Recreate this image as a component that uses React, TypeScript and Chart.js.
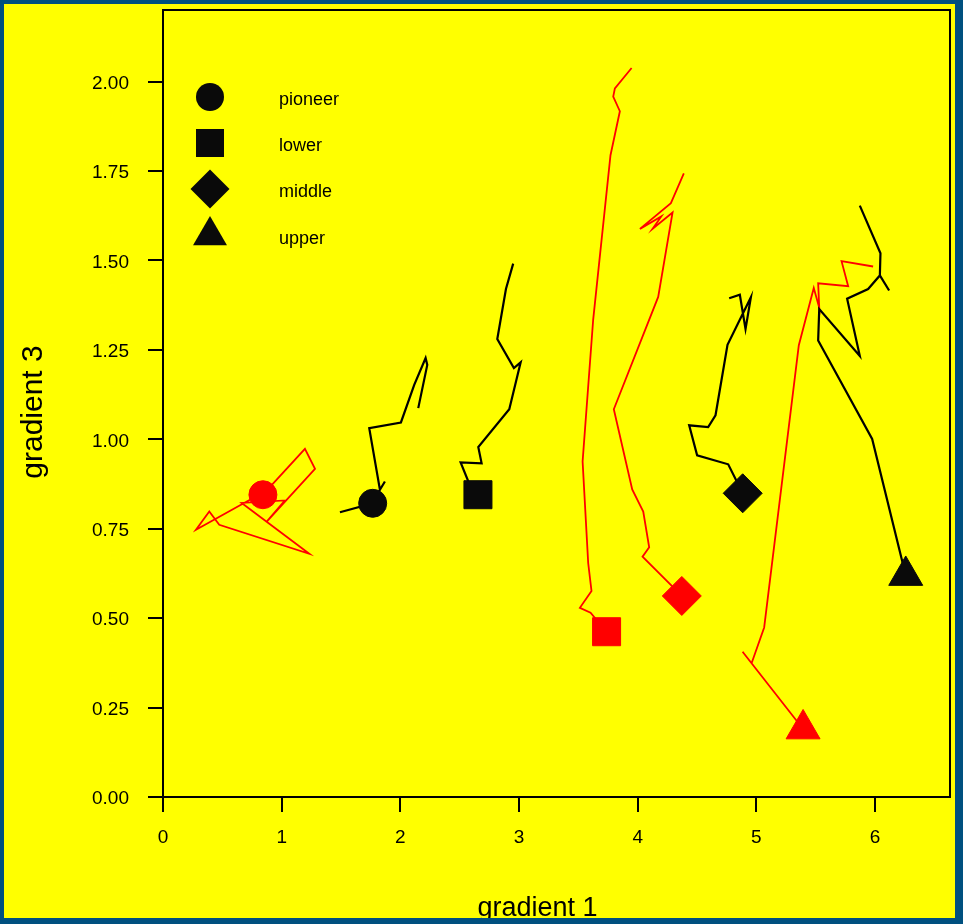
import React, { useEffect, useRef } from 'react';
import { Chart, registerables } from 'chart.js';

Chart.register(...registerables);

// ---- data ----
const groups = ['pioneer', 'lower', 'middle', 'upper'];
const xTitle = 'gradient 1';
const yTitle = 'gradient 3';
const xTicks = [0, 1, 2, 3, 4, 5, 6];
const yTicks = [0, 0.25, 0.5, 0.75, 1.0, 1.25, 1.5, 1.75, 2.0];

// black trajectories (first point = symbol)
const blackPioneer: [number, number][] = [
  [1.767, 0.821], [1.491, 0.796], [1.767, 0.821], [1.828, 0.859], [1.870, 0.882], [1.828, 0.859],
  [1.738, 1.031], [2.005, 1.047], [2.117, 1.152], [2.213, 1.227], [2.227, 1.208], [2.151, 1.087],
];
const blackLower: [number, number][] = [
  [2.654, 0.845], [2.573, 0.882], [2.508, 0.935], [2.685, 0.933], [2.657, 0.978], [2.918, 1.084],
  [3.014, 1.215], [2.957, 1.199], [2.817, 1.280], [2.890, 1.420], [2.951, 1.491],
];
const blackMiddle: [number, number][] = [
  [4.885, 0.849], [4.763, 0.930], [4.501, 0.955], [4.434, 1.039], [4.594, 1.034], [4.656, 1.067],
  [4.757, 1.264], [4.954, 1.397], [4.909, 1.308], [4.861, 1.404], [4.771, 1.394],
];
const blackUpper: [number, number][] = [
  [6.259, 0.619], [5.976, 1.001], [5.521, 1.276], [5.530, 1.364], [5.872, 1.233], [5.765, 1.393],
  [5.942, 1.420], [6.041, 1.458], [6.119, 1.416], [6.041, 1.458], [6.046, 1.520], [5.872, 1.653],
];

// red trajectories (first point = symbol)
const redPioneer: [number, number][] = [
  [0.842, 0.845], [1.196, 0.973], [1.281, 0.917], [0.874, 0.770], [1.028, 0.829], [0.663, 0.822],
  [1.233, 0.680], [0.474, 0.761], [0.390, 0.798], [0.278, 0.747], [0.733, 0.831],
];
const redLower: [number, number][] = [
  [3.738, 0.462], [3.603, 0.515], [3.513, 0.529], [3.611, 0.576], [3.583, 0.654], [3.536, 0.938],
  [3.625, 1.334], [3.771, 1.794], [3.850, 1.917], [3.794, 1.958], [3.808, 1.981], [3.949, 2.038],
];
const redMiddle: [number, number][] = [
  [4.372, 0.562], [4.041, 0.672], [4.097, 0.698], [4.047, 0.798], [3.954, 0.860], [3.799, 1.084],
  [4.173, 1.398], [4.294, 1.634], [4.125, 1.588], [4.199, 1.623], [4.019, 1.588], [4.280, 1.660],
  [4.389, 1.743],
];
const redUpper: [number, number][] = [
  [5.394, 0.190], [4.884, 0.406], [4.960, 0.374], [5.066, 0.474], [5.358, 1.263], [5.484, 1.423],
  [5.530, 1.368], [5.521, 1.436], [5.774, 1.428], [5.718, 1.498], [5.984, 1.483],
];

const blackSeries = [blackPioneer, blackLower, blackMiddle, blackUpper];
const redSeries = [redPioneer, redLower, redMiddle, redUpper];

// ---- styles ----
const FONT = '"Liberation Sans", Arial, Helvetica, sans-serif';
const BLACK = '#000000';
const RED = '#ff0000';
const pointStyles = ['circle', 'rect', 'rectRot', 'triangle'];
const markerRadius = [14, 19.8, 19.5, 19.6];

function makeDataset(pts: [number, number][], gi: number, color: string, width: number) {
  const r = markerRadius[gi];
  return {
    label: groups[gi],
    data: pts.map(([x, y]) => ({ x, y })),
    showLine: true,
    borderColor: color,
    backgroundColor: color,
    borderWidth: width,
    tension: 0,
    pointStyle: pointStyles[gi],
    pointRadius: (c: any) => (c.dataIndex === 0 ? r : 0),
    pointHoverRadius: (c: any) => (c.dataIndex === 0 ? r : 0),
    pointBackgroundColor: color === BLACK ? '#0a0a0a' : color,
    pointBorderColor: color === BLACK ? '#0a0a0a' : color,
    pointBorderWidth: 1,
  };
}

function drawSymbol(ctx: CanvasRenderingContext2D, style: string, x: number, y: number, r: number) {
  ctx.beginPath();
  if (style === 'circle') {
    ctx.arc(x, y, r, 0, Math.PI * 2);
  } else if (style === 'rect') {
    const s = r * Math.SQRT1_2;
    ctx.rect(x - s, y - s, 2 * s, 2 * s);
  } else if (style === 'rectRot') {
    ctx.moveTo(x, y - r);
    ctx.lineTo(x + r, y);
    ctx.lineTo(x, y + r);
    ctx.lineTo(x - r, y);
    ctx.closePath();
  } else {
    const w = r * Math.sin(Math.PI / 3);
    ctx.moveTo(x, y - r);
    ctx.lineTo(x + w, y + r / 2);
    ctx.lineTo(x - w, y + r / 2);
    ctx.closePath();
  }
  ctx.fill();
}

const decorPlugin = {
  id: 'decor',
  afterDraw(chart: any) {
    const { ctx, chartArea: a } = chart;
    ctx.save();
    // plot frame
    ctx.strokeStyle = BLACK;
    ctx.lineWidth = 2;
    ctx.strokeRect(a.left, a.top, a.right - a.left, a.bottom - a.top);

    // axis titles
    ctx.fillStyle = BLACK;
    ctx.textAlign = 'center';
    ctx.textBaseline = 'alphabetic';
    ctx.font = `27px ${FONT}`;
    ctx.fillText(xTitle, a.left + 374.5, a.bottom + 119);
    ctx.save();
    ctx.translate(a.left - 121.5, a.top + 402);
    ctx.rotate(-Math.PI / 2);
    ctx.font = `30px ${FONT}`;
    ctx.fillText(yTitle, 0, 0);
    ctx.restore();

    // legend
    ctx.font = `18px ${FONT}`;
    ctx.textAlign = 'left';
    const lx = a.left + 47;
    const ly = [a.top + 87, a.top + 133, a.top + 179, a.top + 225.5];
    groups.forEach((g, i) => {
      ctx.fillStyle = '#0a0a0a';
      drawSymbol(ctx, pointStyles[i], lx, ly[i], markerRadius[i]);
      ctx.fillStyle = BLACK;
      ctx.fillText(g, a.left + 116, ly[i] + 8);
    });
    ctx.restore();
  },
};

export default function App() {
  const ref = useRef<HTMLCanvasElement>(null);

  useEffect(() => {
    if (!ref.current) return;
    const datasets = [
      ...blackSeries.map((s, i) => makeDataset(s, i, BLACK, 2.2)),
      ...redSeries.map((s, i) => makeDataset(s, i, RED, 1.8)),
    ];
    const tickFont = { family: FONT, size: 19 };
    const gridOpts = {
      display: true,
      drawOnChartArea: false,
      drawTicks: true,
      tickLength: 15,
      tickColor: BLACK,
      tickWidth: 2,
      color: BLACK,
      lineWidth: 2,
    };
    const chart = new Chart(ref.current, {
      type: 'scatter',
      data: { datasets } as any,
      options: {
        animation: false,
        responsive: false,
        maintainAspectRatio: false,
        layout: { autoPadding: false, padding: { left: 0, top: 6, right: 5, bottom: 0 } },
        plugins: {
          legend: { display: false },
          tooltip: { enabled: false },
          title: { display: false },
        },
        events: [],
        scales: {
          x: {
            type: 'linear',
            min: 0,
            max: 6.632,
            afterFit: (s: any) => {
              s.height = 121;
              s.paddingLeft = 0;
              s.paddingRight = 0;
            },
            afterBuildTicks: (s: any) => {
              s.ticks = xTicks.map((v) => ({ value: v }));
            },
            ticks: {
              color: BLACK,
              font: tickFont,
              padding: 14,
              maxRotation: 0,
              autoSkip: false,
              callback: (v: any) => String(v),
            },
            grid: gridOpts,
            border: { display: true, color: BLACK, width: 2 },
          },
          y: {
            type: 'linear',
            min: 0,
            max: 2.2,
            afterFit: (s: any) => {
              s.width = 159;
              s.paddingTop = 0;
              s.paddingBottom = 0;
            },
            afterBuildTicks: (s: any) => {
              s.ticks = yTicks.map((v) => ({ value: v }));
            },
            ticks: {
              color: BLACK,
              font: tickFont,
              padding: 19,
              labelOffset: 2,
              autoSkip: false,
              callback: (v: any) => Number(v).toFixed(2),
            },
            grid: gridOpts,
            border: { display: true, color: BLACK, width: 2 },
          },
        },
      } as any,
      plugins: [decorPlugin],
    });
    return () => chart.destroy();
  }, []);

  return (
    <div
      style={{
        position: 'absolute',
        left: 0,
        top: 0,
        width: 963,
        height: 924,
        background: '#00507f',
      }}
    >
      <div
        style={{
          position: 'absolute',
          left: 4,
          top: 4,
          width: 951,
          height: 914,
          background: '#ffff00',
          overflow: 'hidden',
        }}
      >
        <canvas ref={ref} width={951} height={914} style={{ display: 'block' }} />
      </div>
    </div>
  );
}
